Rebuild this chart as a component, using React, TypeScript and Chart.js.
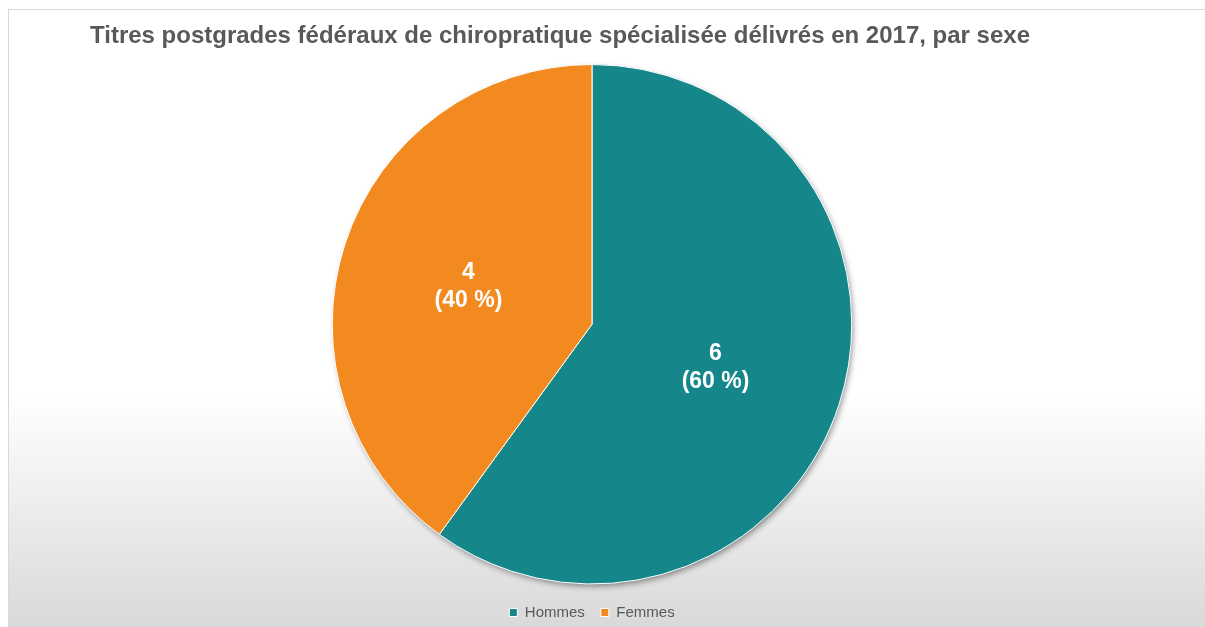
import React, { useEffect, useRef } from "react";
import { Chart, registerables } from "chart.js";

Chart.register(...registerables);

const categories: string[] = ["Hommes", "Femmes"];
const counts: number[] = [6, 4];
const sliceColors: string[] = ["#15868A", "#F28A20"];
const titleText = "Titres postgrades fédéraux de chiropratique spécialisée délivrés en 2017, par sexe";

const FAMILY = "Arial, 'Liberation Sans', sans-serif";

const pieShadow = {
  id: "pieShadow",
  beforeDatasetsDraw(chart: any) {
    const meta = chart.getDatasetMeta(0);
    const arc = meta.data[0];
    if (!arc) return;
    const { x, y, outerRadius } = arc.getProps(["x", "y", "outerRadius"], true);
    const ctx = chart.ctx;
    ctx.save();
    ctx.shadowColor = "rgba(0,0,0,0.45)";
    ctx.shadowBlur = 6;
    ctx.shadowOffsetX = 2;
    ctx.shadowOffsetY = 3;
    ctx.fillStyle = "#9a9a9a";
    ctx.beginPath();
    ctx.arc(x, y, outerRadius - 1, 0, Math.PI * 2);
    ctx.fill();
    ctx.restore();
  },
};

const sliceLabels = {
  id: "sliceLabels",
  afterDatasetsDraw(chart: any) {
    const meta = chart.getDatasetMeta(0);
    const data = chart.data.datasets[0].data as number[];
    const total = data.reduce((a, b) => a + b, 0);
    const ctx = chart.ctx;
    ctx.save();
    ctx.fillStyle = "#ffffff";
    ctx.font = `bold 23px ${FAMILY}`;
    ctx.textAlign = "center";
    ctx.textBaseline = "middle";
    meta.data.forEach((arc: any, i: number) => {
      const { x, y } = arc.getCenterPoint(true);
      const pct = Math.round((data[i] / total) * 100);
      const lh = 28;
      const yc = y + 3;
      ctx.fillText(String(data[i]), x, yc - lh / 2);
      ctx.fillText(`(${pct} %)`, x, yc + lh / 2);
    });
    ctx.restore();
  },
};

export default function App() {
  const canvasRef = useRef<HTMLCanvasElement | null>(null);

  useEffect(() => {
    if (!canvasRef.current) return;
    const chart = new Chart(canvasRef.current, {
      type: "pie",
      data: {
        labels: categories,
        datasets: [
          {
            data: counts,
            backgroundColor: sliceColors,
            borderColor: "#ffffff",
            borderWidth: 1,
          },
        ],
      },
      options: {
        responsive: false,
        animation: false,
        layout: { padding: { left: 81, right: 111, top: 0, bottom: -3 } },
        plugins: {
          title: {
            display: true,
            text: titleText,
            align: "start",
            color: "#595959",
            font: { size: 24, weight: "bold", family: FAMILY },
            padding: { top: 12, bottom: 13.2 },
          },
          legend: {
            position: "bottom",
            title: {
              display: true,
              text: "",
              font: { size: 4, lineHeight: 1 },
              padding: { top: 0.25, bottom: 0.25 },
            },
            labels: {
              boxWidth: 8,
              boxHeight: 8,
              color: "#595959",
              font: { size: 15, family: FAMILY },
              padding: 16,
            },
          },
          tooltip: { enabled: false },
        },
      },
      plugins: [pieShadow, sliceLabels],
    } as any);
    return () => chart.destroy();
  }, []);

  return (
    <div
      style={{
        position: "fixed",
        left: 0,
        top: 0,
        width: 1205,
        height: 627,
        overflow: "hidden",
        background: "#ffffff",
      }}
    >
      <div
        style={{
          position: "absolute",
          left: 8,
          top: 9,
          width: 1215,
          height: 640,
          border: "1px solid #d9d9d9",
          background:
            "linear-gradient(to bottom, #ffffff 0px, #ffffff 385px, #d9d9d9 617px)",
        }}
      >
        <canvas
          ref={canvasRef}
          width={1196}
          height={617}
          style={{ position: "absolute", left: 0, top: 0, width: 1196, height: 617 }}
        />
      </div>
    </div>
  );
}
